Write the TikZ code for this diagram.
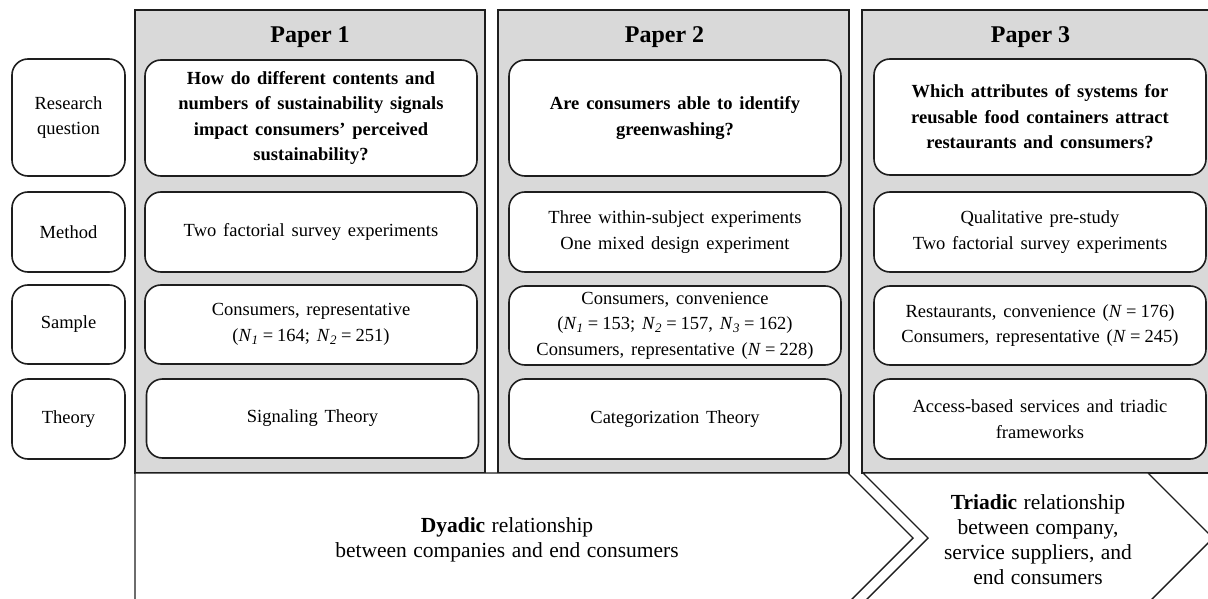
\documentclass[tikz,border=0pt]{standalone}
\usepackage{fontspec}
\setmainfont{Liberation Serif}
\newcommand\Nsub[1]{\textit{N}\textsubscript{\textit{#1}}}
\newcommand\eqs{\hspace{0.22em}=\hspace{0.22em}}
\newcommand\boxfont{\fontsize{18.5}{25.5}\selectfont\spaceskip=0.37em plus 0.1em minus 0.05em\relax}
\newcommand\relfont{\fontsize{21.5}{25}\selectfont\spaceskip=0.3em plus 0.1em\relax}
\definecolor{panelgray}{RGB}{217,217,217}
\definecolor{edge}{RGB}{30,30,30}
\begin{document}
\begin{tikzpicture}[x=1pt,y=-1pt,
  panel/.style={draw=edge,fill=panelgray,line width=1.2pt,inner sep=0pt},
  rbox/.style={draw=edge,fill=white,line width=1.6pt,rounded corners=16pt,inner sep=2pt,
    align=center,font=\boxfont},
  lbox/.style={rbox,minimum width=113pt},
  pbox/.style={rbox,minimum width=332pt},
  rq/.style={pbox,minimum height=116pt,font=\boxfont\bfseries},
  meth/.style={pbox,minimum height=80pt},
  title/.style={font=\fontsize{24}{28}\selectfont\bfseries,inner sep=0pt,anchor=base},
  chev/.style={draw=edge,fill=white,line width=1.4pt,line join=miter},
  rel/.style={align=center,inner sep=0pt,font=\relfont}]
\useasboundingbox (0,0) rectangle (1208,599);
\clip (0,0) rectangle (1208,599);

% panels
\node[panel,minimum width=350pt,minimum height=463pt] (pan1) at (310,241.5) {};
\node[panel,minimum width=351pt,minimum height=463pt] (pan2) at (673.5,241.5) {};
\node[panel,minimum width=352pt,minimum height=463pt] (pan3) at (1038,241.5) {};

% bottom chevrons
\draw[chev] (135,473) -- (848,473) -- (913,538) -- (848,603) -- (135,603) -- cycle;
\draw[chev] (863,473) -- (1148,473) -- (1213,538) -- (1148,603) -- (863,603) -- (928,538) -- cycle;

\node[rel] (dyad) at (507,540) {\textbf{Dyadic} relationship\\between companies and end consumers};
\node[rel] (triad) at (1038,540) {\textbf{Triadic} relationship\\between company,\\service suppliers, and\\end consumers};

% titles
\node[title] (t1) at (310,43) {Paper 1};
\node[title] (t2) at (664.5,43) {Paper 2};
\node[title] (t3) at (1030.5,43) {Paper 3};

% left labels
\node[lbox,minimum height=117pt] (lrq) at (68.5,117.5) {Research\\question};
\node[lbox,minimum height=80pt] (lme) at (68.5,232) {Method};
\node[lbox,minimum height=79pt] (lsa) at (68.5,324.5) {Sample};
\node[lbox,minimum height=80pt] (lth) at (68.5,419) {Theory};

% paper 1
\node[rq] (rq1) at (311,118) {How do different contents and\\numbers of sustainability signals\\impact consumers’ perceived\\sustainability?};
\node[meth] (me1) at (311,232) {Two factorial survey experiments};
\node[meth,minimum height=79pt] (sa1) at (311,324.5) {Consumers, representative\\(\Nsub{1}\eqs164; \Nsub{2}\eqs251)};
\node[meth,minimum height=79pt] (th1) at (312.5,418.5) {Signaling Theory};

% paper 2
\node[rq] (rq2) at (675,118) {Are consumers able to identify\\greenwashing?};
\node[meth] (me2) at (675,232) {Three within-subject experiments\\One mixed design experiment};
\node[meth,minimum height=79pt] (sa2) at (675,325.5) {Consumers, convenience\\(\Nsub{1}\eqs153; \Nsub{2}\eqs157, \Nsub{3}\eqs162)\\Consumers, representative (\textit{N}\eqs228)};
\node[meth] (th2) at (675,419) {Categorization Theory};

% paper 3
\node[rq] (rq3) at (1040,117) {Which attributes of systems for\\reusable food containers attract\\restaurants and consumers?};
\node[meth] (me3) at (1040,232) {Qualitative pre-study\\Two factorial survey experiments};
\node[meth,minimum height=79pt] (sa3) at (1040,325.5) {Restaurants, convenience (\textit{N}\eqs176)\\Consumers, representative (\textit{N}\eqs245)};
\node[meth] (th3) at (1040,419) {Access-based services and triadic\\frameworks};
\end{tikzpicture}
\end{document}
